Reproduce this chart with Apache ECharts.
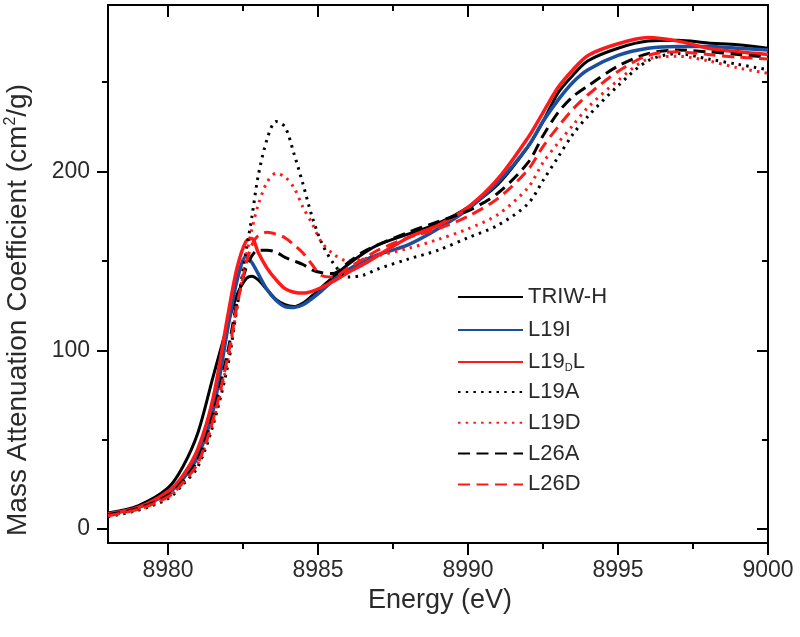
<!DOCTYPE html>
<html>
<head>
<meta charset="utf-8">
<script src="https://cdn.jsdelivr.net/npm/echarts@6/dist/echarts.min.js"></script>
<style>html,body{margin:0;padding:0;background:#fff}#c{width:800px;height:637px}</style>
</head>
<body>
<div id="c"></div>
<script>
var energy = [8978, 8979, 8980, 8980.5, 8981, 8981.5, 8982, 8982.3, 8982.6, 8982.8, 8983, 8983.3, 8983.6, 8983.9, 8984.2, 8984.5, 8984.8, 8985.1, 8985.5, 8986, 8986.5, 8987, 8988, 8989, 8990, 8991, 8992, 8992.5, 8993, 8993.5, 8994, 8995, 8996, 8997, 8998, 8999, 9000];
var triwH = [9, 13, 23, 35, 54, 85, 115, 131, 140, 141.5, 139.5, 134, 128.5, 125.5, 124.5, 126.5, 130.5, 135, 141, 148, 154, 159, 165, 171, 180, 193, 214, 228, 244, 254, 262, 269, 273, 273.5, 272, 271, 269];
var l19I = [8.5, 12, 20, 28, 41, 66, 113, 139, 152.5, 149, 143, 134, 128, 124.5, 124, 125.5, 129, 133, 139, 145, 150, 153.5, 159, 168, 179, 194, 214, 228, 240, 250, 257, 265, 269, 270, 270, 269, 268];
var l19DL = [8.5, 12, 21, 30, 45, 73, 120, 146, 161, 162.5, 155, 146, 139.5, 134.5, 132.5, 132, 133, 135, 138.5, 143.5, 148, 153, 163, 170, 180, 196, 219, 233, 247, 257, 265, 271.5, 275, 273, 269, 267, 265.5];
var l19A = [7, 10.5, 17, 25, 35, 58, 92, 124, 155, 175, 197, 218, 228, 225, 210, 193, 175, 161, 149, 141, 142, 145.5, 151, 156, 163, 170, 182, 195, 208, 221, 231, 248, 262, 266, 263, 260, 257];
var l19D = [7.5, 11, 18, 26, 37, 60, 95, 124, 152, 168, 181, 194, 199, 197, 191, 180, 171, 161, 154, 150, 151, 153, 157, 162, 168, 176, 191, 205, 216, 226, 236, 251, 263, 264.5, 262, 258, 255];
var l26A = [8, 11.5, 19, 27, 39, 64, 100, 127, 146, 153, 156, 156, 155, 152, 150, 148, 145, 143.5, 143, 149, 155, 159, 166, 172, 178, 188, 205, 220, 233, 242, 248, 259, 266, 268, 267, 265.5, 264];
var l26D = [7.5, 11, 18, 26, 37, 61, 97, 125, 148, 159, 164, 166, 165, 163, 159, 154.5, 148, 142, 141, 146, 151, 156, 163, 168, 175, 185, 201, 214, 225, 235, 243, 256, 265, 267, 265.5, 264, 263];

var seriesNames = ['TRIW-H', 'L19I', 'L19DL', 'L19A', 'L19D', 'L26A', 'L26D'];
var seriesValues = [triwH, l19I, l19DL, l19A, l19D, l26A, l26D];
var xMajorTicks = [8980, 8985, 8990, 8995, 9000];
var xMinorTicks = [8982.5, 8987.5, 8992.5, 8997.5];
var yMajorTicks = [0, 100, 200];
var yMinorTicks = [50, 150, 250];

var BLACK = '#000000', BLUE = '#1a4e9e', RED = '#ff1a1a';
var FONT = 'Liberation Sans, Arial, sans-serif', TXT = '#2a2a2a';
var styles = [
  {color: BLACK, width: 3, type: 'solid'},
  {color: BLUE, width: 3.5, type: 'solid'},
  {color: RED, width: 3.5, type: 'solid'},
  {color: BLACK, width: 3, type: [2.5, 5.2]},
  {color: RED, width: 3, type: [2.5, 5.2]},
  {color: BLACK, width: 3, type: [12, 6.5]},
  {color: RED, width: 3, type: [12, 6.5]}
];

function pairs(vals) { return energy.map(function (e, i) { return [e, vals[i]]; }); }

var series = seriesNames.map(function (n, i) {
  return {
    name: n, type: 'line', xAxisIndex: 0, yAxisIndex: 0,
    data: pairs(seriesValues[i]), symbol: 'none', showSymbol: false, smooth: 0.3,
    lineStyle: {color: styles[i].color, width: styles[i].width, type: styles[i].type},
    itemStyle: {color: styles[i].color}
  };
});

var LBL = {fontFamily: FONT, fontSize: 23, color: TXT, formatter: function (v) { return String(v); }};
var XMIN = 8978, XMAX = 9000, YMIN = -7.8, YMAX = 293.2;

function xAxisDef(pos, major, inside, showLabel) {
  return {
    type: 'value', position: pos, min: XMIN, max: XMAX,
    axisLine: {show: true, onZero: false, lineStyle: {color: '#000', width: 2}},
    axisTick: {show: true, inside: inside, length: major ? 12 : 6, customValues: major ? xMajorTicks : xMinorTicks, lineStyle: {color: '#000', width: 2}},
    axisLabel: showLabel ? Object.assign({show: true, margin: 16, customValues: xMajorTicks}, LBL) : {show: false},
    splitLine: {show: false}
  };
}
function yAxisDef(pos, major, inside, showLabel) {
  return {
    type: 'value', position: pos, min: YMIN, max: YMAX,
    axisLine: {show: true, onZero: false, lineStyle: {color: '#000', width: 2}},
    axisTick: {show: true, inside: inside, length: major ? 11 : 6, customValues: major ? yMajorTicks : yMinorTicks, lineStyle: {color: '#000', width: 2}},
    axisLabel: showLabel ? Object.assign({show: true, margin: 18, customValues: yMajorTicks}, LBL) : {show: false},
    splitLine: {show: false}
  };
}

function legendDef(names, top, gap) {
  return {
    orient: 'vertical', left: 457, top: top, padding: 0, itemWidth: 65, itemHeight: 14, itemGap: gap,
    data: names,
    itemStyle: {opacity: 0, borderWidth: 0},
    formatter: function (n) { return n === 'L19DL' ? '{a|L19}{sub|D}{a|L}' : '{a|' + n + '}'; },
    textStyle: {
      fontFamily: FONT, fontSize: 22, color: TXT, lineHeight: 22,
      rich: {
        a: {fontFamily: FONT, fontSize: 22, color: TXT, lineHeight: 22},
        sub: {fontFamily: FONT, fontSize: 11, color: TXT, lineHeight: 22, verticalAlign: 'bottom', padding: [30, 0, 0, 0]}
      }
    }
  };
}

var chart = echarts.init(document.getElementById('c'), null, {renderer: 'canvas'});
chart.setOption({
  animation: false,
  backgroundColor: '#ffffff',
  grid: {left: 108, right: 32, top: 5, bottom: 94, containLabel: false},
  xAxis: [
    xAxisDef('bottom', true, false, true),
    xAxisDef('bottom', false, false, false),
    xAxisDef('top', true, true, false),
    xAxisDef('top', false, true, false)
  ],
  yAxis: [
    yAxisDef('left', true, false, true),
    yAxisDef('left', false, false, false),
    yAxisDef('right', true, true, false),
    yAxisDef('right', false, true, false)
  ],
  legend: [
    legendDef(['TRIW-H', 'L19I'], 286, 11),
    legendDef(['L19DL'], 332, 0),
    legendDef(['L19A', 'L19D', 'L26A', 'L26D'], 381, 8.8)
  ],
  graphic: [
    {type: 'text', x: 440, y: 601, style: {text: 'Energy (eV)', fontFamily: FONT, fontSize: 27, fill: TXT, align: 'center', verticalAlign: 'middle'}},
    {type: 'text', x: 18, y: 310, rotation: Math.PI / 2,
      style: {text: '{t|Mass Attenuation Coefficient (cm}{s|2}{t|/g)}', align: 'center', verticalAlign: 'middle',
        rich: {t: {fontFamily: FONT, fontSize: 28, fill: TXT, lineHeight: 30},
               s: {fontFamily: FONT, fontSize: 16, fill: TXT, lineHeight: 30, verticalAlign: 'top', padding: [0, 0, 12, 0]}}}}
  ],
  series: series
});
</script>
</body>
</html>
